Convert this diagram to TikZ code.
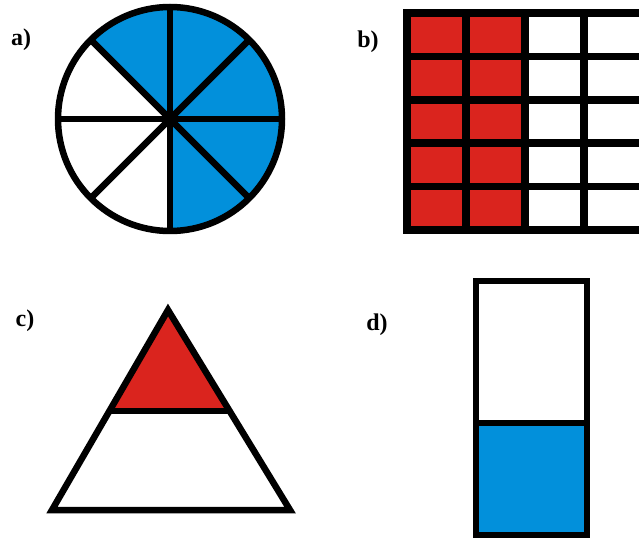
\documentclass[tikz,border=0pt]{standalone}
\usepackage{fontspec}
\setmainfont{Liberation Serif}
\usepackage{tikz}
\usetikzlibrary{calc}
\definecolor{part_blue}{RGB}{2,144,219}
\definecolor{part_red}{RGB}{218,36,30}
\tikzset{
outline/.style={draw=black, line width=6.5pt, line join=round},
grid_line/.style={draw=black, line width=7.5pt},
blue_part/.style={fill=part_blue},
red_part/.style={fill=part_red},
part_label/.style={font=\bfseries\fontsize{24}{24}\selectfont, inner sep=0pt}
}

\begin{document}
\begin{tikzpicture}[x=1pt, y=1pt]
    \useasboundingbox (0,0) rectangle (639,539);
    \clip (0,0) rectangle (639,539);
    % a) circle, 5 of 8 parts
    \node[part_label] (label_a) at (21,499) {a)};
    \coordinate (centre) at (170,420);
    \fill[blue_part] (centre) -- ++(-90:112pt) arc[start angle=-90, end angle=135, radius=112pt] -- cycle;
    \foreach \a in {0,45,...,315}
        \draw[outline] (centre) -- ++(\a:112pt);
    \draw[outline] (centre) circle[radius=112pt];
    % b) grid, 2 columns red
    \node[part_label] (label_b) at (368,497) {b)};
    \coordinate (grid_sw) at (407,309);
    \coordinate (grid_ne) at (643,526);
    \fill[red_part] (grid_sw) rectangle (525,526);
    \foreach \x in {407,466,525,584,643}
        \draw[grid_line] (\x,305.25) -- (\x,529.75);
    \foreach \y in {309,352.4,395.8,439.2,482.6,526}
        \draw[grid_line] (403.25,\y) -- (646.75,\y);
    % c) triangle, top part red
    \node[part_label] (label_c) at (25,218) {c)};
    \coordinate (apex) at (168,229);
    \coordinate (base_left) at (52,29);
    \coordinate (base_right) at (290,29);
    \coordinate (cut_left) at ($(apex)!0.505!(base_left)$);
    \coordinate (cut_right) at ($(apex)!0.505!(base_right)$);
    \fill[red_part] (apex) -- (cut_left) -- (cut_right) -- cycle;
    \draw[outline] (cut_left) -- (cut_right);
    \draw[outline, line join=miter] (apex) -- (base_left) -- (base_right) -- cycle;
    % d) bar, lower half blue
    \node[part_label] (label_d) at (377,214) {d)};
    \coordinate (bar_sw) at (476,4);
    \coordinate (bar_ne) at (587,258);
    \coordinate (bar_mid_w) at (476,116);
    \coordinate (bar_mid_e) at (587,116);
    \fill[blue_part] (bar_sw) rectangle (bar_mid_e);
    \draw[outline] (bar_mid_w) -- (bar_mid_e);
    \draw[outline, line join=miter] (bar_sw) rectangle (bar_ne);
\end{tikzpicture}
\end{document}
